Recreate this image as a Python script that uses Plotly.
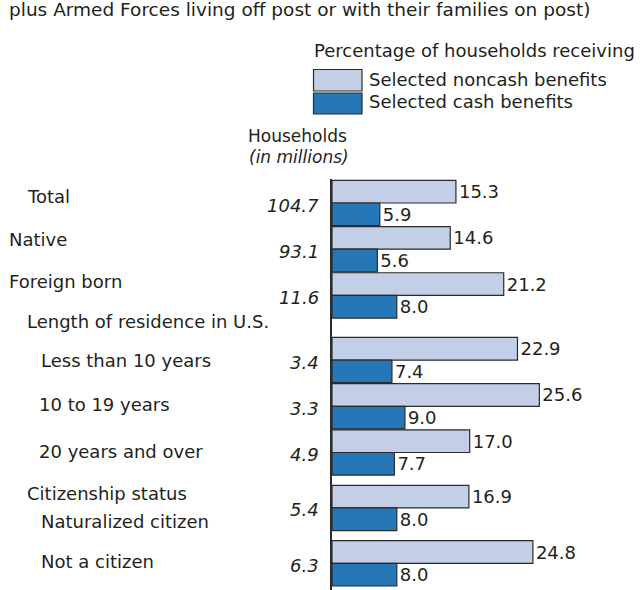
import plotly.graph_objects as go

# ---------------- data ----------------
categories = ["Total", "Native", "Foreign born", "Less than 10 years",
              "10 to 19 years", "20 years and over", "Naturalized citizen",
              "Not a citizen"]
households = [104.7, 93.1, 11.6, 3.4, 3.3, 4.9, 5.4, 6.3]
noncash = [15.3, 14.6, 21.2, 22.9, 25.6, 17.0, 16.9, 24.8]
cash = [5.9, 5.6, 8.0, 7.4, 9.0, 7.7, 8.0, 8.0]
row_slot = [0, 1, 2, 3.4, 4.4, 5.4, 6.6, 7.8]

label_text = ["Total", "Native", "Foreign born", "Length of residence in U.S.",
              "Less than 10 years", "10 to 19 years", "20 years and over",
              "Citizenship status", "Naturalized citizen", "Not a citizen"]
label_slot = [-0.14, 0.80, 1.70, 2.57, 3.40, 4.37, 5.37, 6.28, 6.90, 7.76]
label_indent = [26, 8, 8, 26, 40, 38, 38, 26, 40, 40]

# ---------------- layout constants ----------------
W, H = 642, 590
L, R, T, B = 332, 10, 179, 0
FONT = "DejaVu Sans"
FS = 18
TXT = "#231f20"
C_NONCASH = "#c3cfe6"
C_CASH = "#2577b7"
OUTLINE = "#2b2b2b"
PX_PER_PCT = 8.1
PX_PER_SLOT = 46.2
FIRST_ROW_PX = 203

plot_w = W - L - R
plot_h = H - T - B
x_max = plot_w / PX_PER_PCT
y_top = (T - FIRST_ROW_PX) / PX_PER_SLOT
y_bot = (H - B - FIRST_ROW_PX) / PX_PER_SLOT


def pxx(x):
    return (x - L) / plot_w


def pxy(y):
    return (H - B - y) / plot_h


fig = go.Figure()
bar_w = 0.49
fig.add_trace(go.Bar(
    orientation="h", y=row_slot, x=noncash, width=bar_w, offset=-bar_w,
    marker=dict(color=C_NONCASH, line=dict(color=OUTLINE, width=1.2)),
    text=[f"{v:.1f}" for v in noncash], textposition="outside",
    constraintext="none", cliponaxis=False,
    textfont=dict(family=FONT, size=FS, color=TXT),
    name="Selected noncash benefits", showlegend=False, hoverinfo="x"))
fig.add_trace(go.Bar(
    orientation="h", y=row_slot, x=cash, width=bar_w, offset=0,
    marker=dict(color=C_CASH, line=dict(color=OUTLINE, width=1.2)),
    text=[f"{v:.1f}" for v in cash], textposition="outside",
    constraintext="none", cliponaxis=False,
    textfont=dict(family=FONT, size=FS, color=TXT),
    name="Selected cash benefits", showlegend=False, hoverinfo="x"))

ann = []
# left labels
for t, s, ind in zip(label_text, label_slot, label_indent):
    ann.append(dict(text=t, xref="x", yref="y", x=0, y=s, xanchor="left",
                    yanchor="middle", xshift=ind - L - 1, showarrow=False,
                    font=dict(family=FONT, size=FS, color=TXT)))
# household numbers
for h, s in zip(households, row_slot):
    ann.append(dict(text=f"<i>{h}</i>", xref="x", yref="y", x=0, y=s,
                    xanchor="right", yanchor="middle", xshift=-11, yshift=-2,
                    showarrow=False, font=dict(family=FONT, size=FS, color=TXT)))


def txt(t, x, y, anchor="left", yanchor="middle", size=FS):
    ann.append(dict(text=t, xref="paper", yref="paper", x=pxx(x), y=pxy(y),
                    xanchor=anchor, yanchor=yanchor, showarrow=False,
                    font=dict(family=FONT, size=size, color=TXT)))


txt("plus Armed Forces living off post or with their families on post)",
    7, -3, yanchor="top", size=18.5)
txt("Households", 297, 148, "center", "bottom", 17)
txt("<i>(in millions)</i>", 299, 145, "center", "top", 17)
txt("Percentage of households receiving", 312, 50)
txt("Selected noncash benefits", 367, 79)
txt("Selected cash benefits", 367, 102)

shapes = [
    dict(type="rect", xref="paper", yref="paper", x0=pxx(313.5), x1=pxx(362),
         y0=pxy(69.5), y1=pxy(91), fillcolor=C_NONCASH,
         line=dict(color=OUTLINE, width=1.2)),
    dict(type="rect", xref="paper", yref="paper", x0=pxx(313.5), x1=pxx(362),
         y0=pxy(93), y1=pxy(114), fillcolor=C_CASH,
         line=dict(color=OUTLINE, width=1.2)),
]

fig.update_layout(
    width=W, height=H,
    margin=dict(l=L, r=R, t=T, b=B, pad=0),
    paper_bgcolor="white", plot_bgcolor="white",
    showlegend=False, annotations=ann, shapes=shapes,
    xaxis=dict(range=[0, x_max], visible=False, fixedrange=True),
    yaxis=dict(range=[y_bot, y_top], showticklabels=False, showgrid=False,
               zeroline=False, ticks="", showline=True, linecolor=OUTLINE,
               linewidth=1.5, fixedrange=True),
    font=dict(family=FONT, size=FS, color=TXT),
)

fig.write_html("out.html",
               config={"displayModeBar": False},
               post_script="document.body.style.margin='0';"
                           "document.body.style.overflow='hidden';")
